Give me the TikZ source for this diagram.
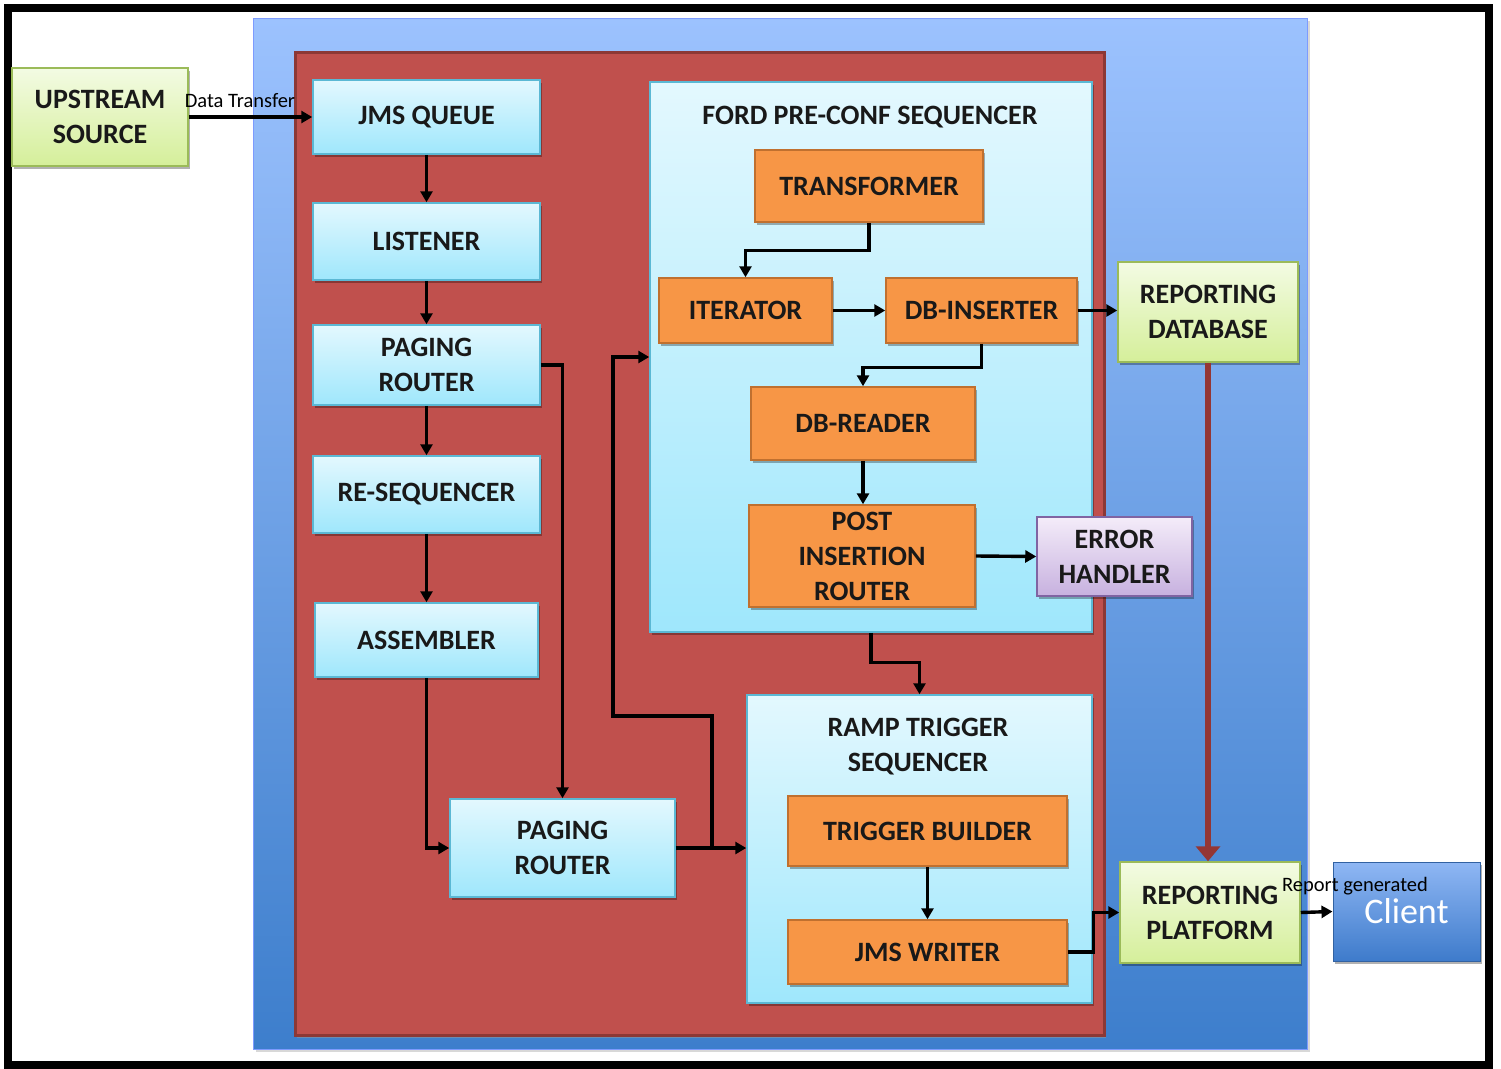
\documentclass[tikz,border=0pt]{standalone}
\usepackage{fontspec}
\setmainfont{Carlito}
\usetikzlibrary{arrows.meta,shadows,calc}
\definecolor{cyanTop}{HTML}{E3F8FE}
\definecolor{cyanBot}{HTML}{9FE7FC}
\definecolor{cyanLine}{HTML}{5BB8D4}
\definecolor{orFill}{HTML}{F79646}
\definecolor{orLine}{HTML}{C0702F}
\definecolor{grTop}{HTML}{F3FBE3}
\definecolor{grBot}{HTML}{D5EF9A}
\definecolor{grLine}{HTML}{9BBB59}
\definecolor{puTop}{HTML}{F4ECF9}
\definecolor{puBot}{HTML}{C7B1DF}
\definecolor{puLine}{HTML}{8064A2}
\definecolor{blTop}{HTML}{9CC2FE}
\definecolor{blBot}{HTML}{3D7ECC}
\definecolor{clTop}{HTML}{8FB7F4}
\definecolor{clBot}{HTML}{3E7BCB}
\definecolor{redFill}{HTML}{C0504D}
\definecolor{redLine}{HTML}{8C3836}
\definecolor{darkRed}{HTML}{943634}
\tikzset{
  boxtext/.style={font=\fontsize{28}{35}\selectfont\bfseries, align=center, text=black!90, inner sep=0pt},
  shad/.style={drop shadow={shadow xshift=2pt, shadow yshift=-3pt, opacity=0.3, fill=black}},
  cyanbox/.style={boxtext, rectangle, draw=cyanLine, line width=1.5pt, top color=cyanTop, bottom color=cyanBot, shad},
  orbox/.style={boxtext, rectangle, draw=orLine, line width=1.5pt, fill=orFill, shad},
  grbox/.style={boxtext, rectangle, draw=grLine, line width=1.5pt, top color=grTop, bottom color=grBot, shad},
  pubox/.style={boxtext, rectangle, draw=puLine, line width=1.5pt, top color=puTop, bottom color=puBot, shad},
  arr/.style={draw=black, line width=3.4pt, -{Triangle[length=11pt,width=12pt]}},
  redarr/.style={draw=darkRed, line width=6pt, -{Triangle[length=15pt,width=24pt]}},
  lbl/.style={font=\fontsize{20.5}{24}\selectfont, inner sep=0pt, text=black}
}
\begin{document}
\begin{tikzpicture}[x=1pt,y=-1pt]
\useasboundingbox (0,0) rectangle (1501,1068);
\fill[white] (0,0) rectangle (1501,1068);
% outer frame
\draw[black, line width=8pt] (8,8) rectangle (1489,1065);
% blue region
\fill[black!30, opacity=0.5] (256,21) rectangle (1310,1052);
\shade[top color=blTop, bottom color=blBot, draw=blTop!80!blue, line width=1pt] (253,18) rectangle (1307,1049);
% red region
\fill[black!40, opacity=0.5] (297,55) rectangle (1106,1038);
\filldraw[fill=redFill, draw=redLine, line width=3pt] (295,52) rectangle (1104,1035);

% left column
\node[grbox, minimum width=176pt, minimum height=98pt] (up) at (100,117) {UPSTREAM\\SOURCE};
\node[cyanbox, minimum width=227pt, minimum height=74pt] (jms) at (426.5,117) {JMS QUEUE};
\node[cyanbox, minimum width=227pt, minimum height=77pt] (lis) at (426.5,241.5) {LISTENER};
\node[cyanbox, minimum width=227pt, minimum height=80pt] (pr1) at (426.5,365) {PAGING\\ROUTER};
\node[cyanbox, minimum width=227pt, minimum height=77pt] (reseq) at (426.5,494.5) {RE-SEQUENCER};
\node[cyanbox, minimum width=223pt, minimum height=74pt] (asm) at (426.5,640) {ASSEMBLER};
\node[cyanbox, minimum width=225pt, minimum height=98pt] (pr2) at (562.5,848) {PAGING\\ROUTER};

% Ford sequencer
\node[cyanbox, minimum width=442pt, minimum height=550pt] (ford) at (871,357) {};
\node[boxtext] (fordt) at (870,117) {FORD PRE-CONF SEQUENCER};
\node[orbox, minimum width=228pt, minimum height=72pt] (trans) at (869,186) {TRANSFORMER};
\node[orbox, minimum width=173pt, minimum height=65pt] (iter) at (745.5,310.5) {ITERATOR};
\node[orbox, minimum width=191pt, minimum height=65pt] (dbins) at (981.5,310.5) {DB-INSERTER};
\node[orbox, minimum width=224pt, minimum height=73pt] (dbr) at (863,423.5) {DB-READER};
\node[orbox, minimum width=226pt, minimum height=102pt] (post) at (862,556) {POST\\INSERTION\\ROUTER};
\node[pubox, minimum width=155pt, minimum height=79pt] (err) at (1114.5,556.5) {ERROR\\HANDLER};

% Ramp trigger sequencer
\node[cyanbox, minimum width=345pt, minimum height=308pt] (ramp) at (919.5,849) {};
\node[boxtext] (rampt) at (918,747) {RAMP TRIGGER\\SEQUENCER};
\node[orbox, minimum width=279pt, minimum height=70pt] (tb) at (927.5,831) {TRIGGER BUILDER};
\node[orbox, minimum width=279pt, minimum height=64pt] (jw) at (927.5,952) {JMS WRITER};

% right side
\node[grbox, minimum width=180pt, minimum height=100pt] (rdb) at (1208,312) {REPORTING\\DATABASE};
\node[grbox, minimum width=180pt, minimum height=101pt] (rp) at (1210,912.5) {REPORTING\\PLATFORM};
\node[rectangle, draw=clBot!80!black, line width=1pt, top color=clTop, bottom color=clBot, shad,
      minimum width=147pt, minimum height=99pt, font=\fontsize{36}{42}\selectfont, text=white, inner sep=0pt] (cl) at (1406.5,911.5) {Client};

% labels
\node[lbl] (dt) at (240,101) {Data Transfer};
\node[lbl] (rg) at (1355,886) {Report generated};

% connectors
\coordinate (j1) at (712,716);
\coordinate (j2) at (613,716);
\draw[arr] (up.east) -- (jms.west);
\draw[arr] (jms.south) -- (lis.north);
\draw[arr] (lis.south) -- (pr1.north);
\draw[arr] (pr1.south) -- (reseq.north);
\draw[arr] (reseq.south) -- (asm.north);
\draw[arr] (pr1.east) -| (pr2.north);
\draw[arr] (asm.south) |- (pr2.west);
\draw[arr] (pr2.east) -- (pr2.east -| ramp.west);
\draw[arr] (pr2.east) -| (j1) -- (j2) |- (ford.west);
\draw[arr] (trans.south) -- ++(0,28) -| (iter.north);
\draw[arr] (iter.east) -- (dbins.west);
\draw[arr] (dbins.east) -- (dbins.east -| rdb.west);
\draw[arr] (dbins.south) -- ++(0,24) -| (dbr.north);
\draw[arr] (dbr.south) -- (dbr.south |- post.north);
\draw[arr] (post.east) -- (err.west);
\draw[arr] (ford.south) -- ++(0,30) -| (ramp.north);
\draw[arr] (tb.south) -- (jw.north);
\draw[arr] (jw.east) -- ++(26,0) |- (rp.west);
\draw[redarr] (rdb.south) -- (rdb.south |- rp.north);
\draw[arr] (rp.east) -- (cl.west);
\end{tikzpicture}
\end{document}
